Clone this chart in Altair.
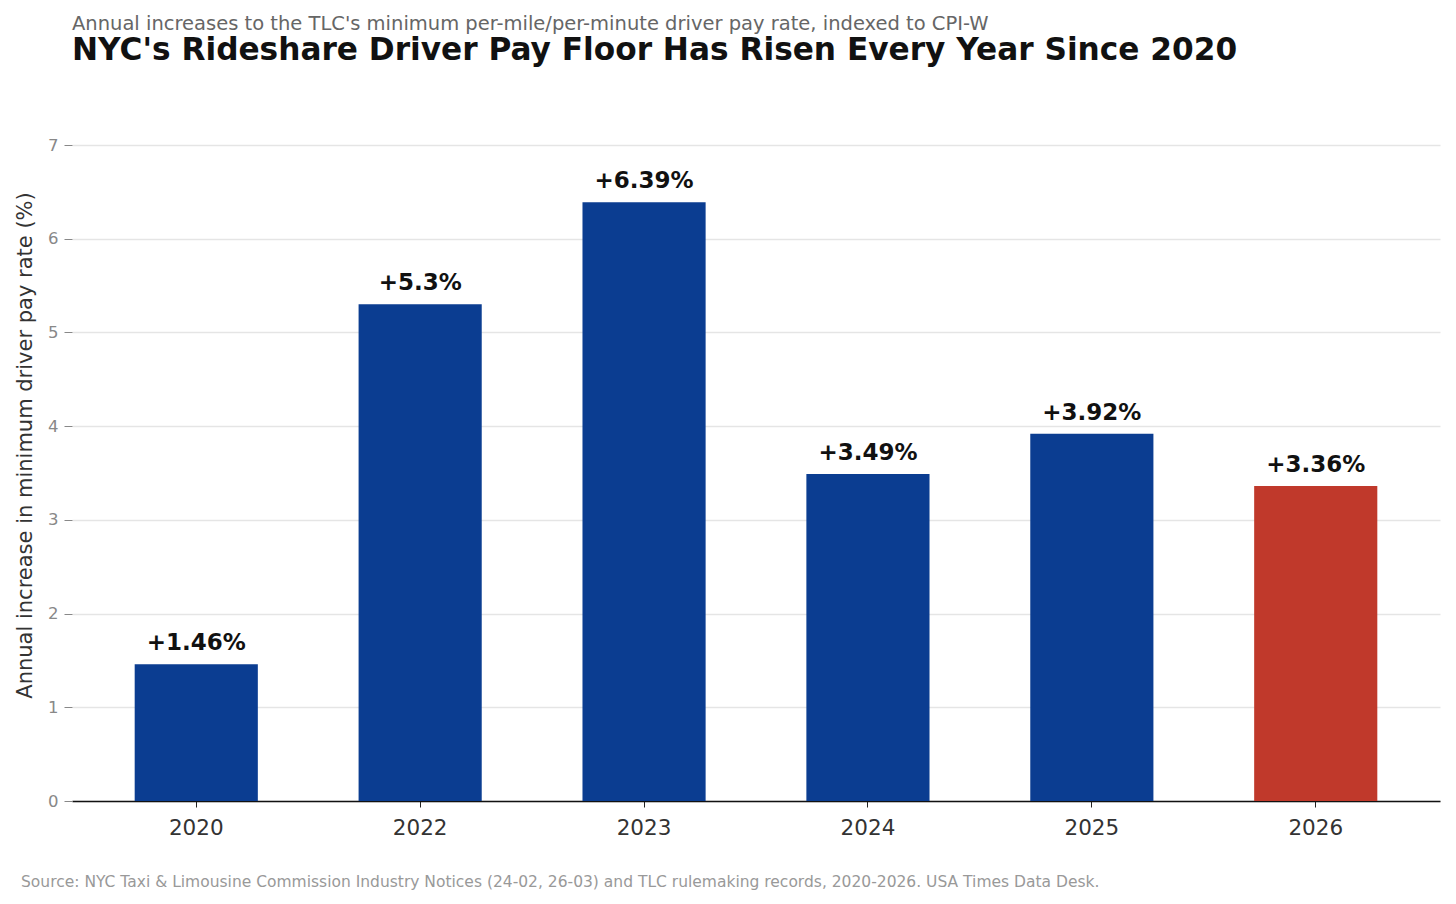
import altair as alt
import pandas as pd

years = ["2020", "2022", "2023", "2024", "2025", "2026"]
increases = [1.46, 5.3, 6.39, 3.49, 3.92, 3.36]
labels = ["+1.46%", "+5.3%", "+6.39%", "+3.49%", "+3.92%", "+3.36%"]
highlight = ["past", "past", "past", "past", "past", "latest"]
y_ticks = [0, 1, 2, 3, 4, 5, 6, 7]
source_note = ["Source: NYC Taxi & Limousine Commission Industry Notices (24-02, 26-03) and TLC rulemaking records, 2020-2026. USA Times Data Desk."]

df = pd.DataFrame({"year": years, "value": increases, "label": labels, "group": highlight})

FONT = "DejaVu Sans"

x = alt.X("year:N", sort=years, title=None,
          scale=alt.Scale(paddingInner=0.45, paddingOuter=0.28),
          axis=alt.Axis(labelAngle=0, labelFontSize=21.5, labelColor="#333333",
                        labelPadding=10, tickColor="#222222", tickSize=6,
                        domainColor="#111111", domainWidth=1.5, grid=False))
y = alt.Y("value:Q", title="Annual increase in minimum driver pay rate (%)",
          scale=alt.Scale(domain=[0, 7], nice=False),
          axis=alt.Axis(values=y_ticks, format="d", labelFontSize=16.5,
                        labelColor="#888888", tickColor="#888888", tickSize=8,
                        labelPadding=6, domain=False, gridColor="#e5e5e5",
                        gridWidth=1.5, titleFontSize=21, titleColor="#333333",
                        titleFontWeight="normal", titlePadding=12, titleY=300))

bars = alt.Chart(df).mark_bar().encode(
    x=x, y=y,
    color=alt.Color("group:N", scale=alt.Scale(domain=["past", "latest"],
                                               range=["#0b3d91", "#c0392b"]),
                    legend=None),
)

text = alt.Chart(df).mark_text(baseline="bottom", dy=-9, fontSize=23,
                               fontWeight="bold", color="#111111", font=FONT).encode(
    x=alt.X("year:N", sort=years), y="value:Q", text="label:N")

source = alt.Chart(pd.DataFrame({"t": source_note})).mark_text(
    align="left", baseline="alphabetic", fontSize=15.5, color="#999999", font=FONT).encode(
    x=alt.value(-51), y=alt.value(742), text="t:N")

chart = alt.layer(bars, text, source).properties(
    width=1368, height=656,
    padding={"left": 6, "top": 6, "right": 8, "bottom": 5},
    title=alt.TitleParams(
        text="Annual increases to the TLC's minimum per-mile/per-minute driver pay rate, indexed to CPI-W",
        subtitle="NYC's Rideshare Driver Pay Floor Has Risen Every Year Since 2020",
        anchor="start", frame="group", fontSize=19.5, fontWeight="normal", color="#666666",
        subtitleFontSize=31.2, subtitleFontWeight="bold", subtitleColor="#111111",
        subtitlePadding=0, offset=70, font=FONT, subtitleFont=FONT),
).configure(font=FONT).configure_view(stroke=None).configure_axis(labelFont=FONT, titleFont=FONT)

chart.save("out.html", embed_options={"renderer": "svg", "actions": False})
